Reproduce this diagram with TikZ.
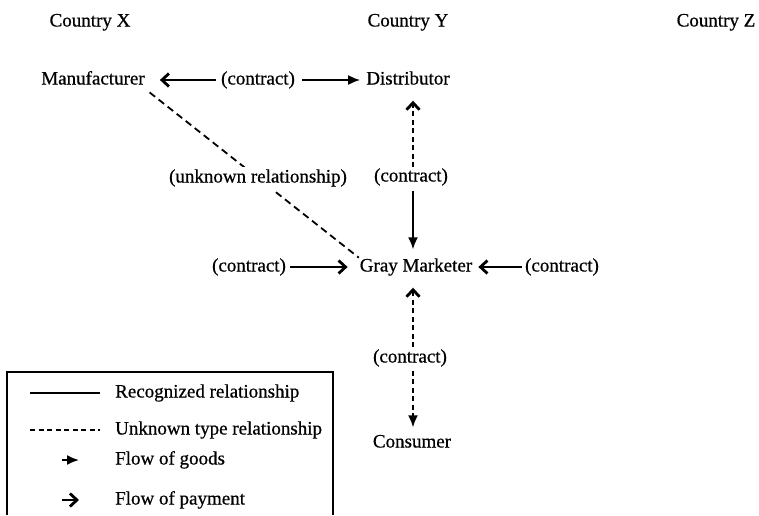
\documentclass[tikz,border=0pt]{standalone}
\usepackage{fontspec}
\newfontfamily\dfont{Liberation Serif}[FakeBold=0.6]
\usetikzlibrary{arrows.meta}
\begin{document}
\begin{tikzpicture}[x=1pt,y=-1pt,
  lbl/.style={inner sep=0pt,text height=13pt,text depth=4pt,font=\dfont\fontsize{19}{22}\selectfont},
  lab/.style={lbl,fill=white,inner xsep=1pt,inner ysep=3pt},
  conn/.style={line width=1.8pt},
  dsh/.style={conn,dash pattern=on 5pt off 3.5pt},
  goods/.style={-{Latex[length=12pt,width=10pt]}},
  pay/.style={-{Straight Barb[length=7pt,width=13pt,line width=2.8pt]}}
]
\useasboundingbox (0,0) rectangle (759,515);
% headers
\node[lbl] (cx) at (90,22) {Country X};
\node[lbl] (cy) at (408,22) {Country Y};
\node[lbl] (cz) at (716,22) {Country Z};
% main nodes
\node[lbl] (mfr) at (93,80) {Manufacturer};
\node[lbl] (c1) at (258,80) {(contract)};
\node[lbl] (dist) at (408,80) {Distributor};
\node[lbl] (c2) at (411,177) {(contract)};
\node[lbl] (gray) at (416,267) {Gray Marketer};
\node[lbl] (c3) at (249,267) {(contract)};
\node[lbl] (c4) at (562,267) {(contract)};
\node[lbl] (c5) at (410,358) {(contract)};
\node[lbl] (cons) at (412,443) {Consumer};
% diagonal unknown relationship
\draw[dsh,dash pattern=on 7pt off 4.5pt,shorten <=6pt,shorten >=1pt] (mfr.south east) -- (gray.north west);
\node[lab] (unk) at (258,178) {(unknown relationship)};
% manufacturer - distributor
\draw[conn,pay,shorten >=15pt,shorten <=5pt] (c1.west) -- (mfr.east);
\draw[conn,goods,shorten <=7pt,shorten >=6pt] (c1.east) -- (dist.west);
% distributor - gray marketer
\draw[dsh,pay,shorten <=1pt,shorten >=12pt] (c2.north -| 413,0) -- (dist.south -| 413,0);
\draw[conn,goods,shorten <=5pt,shorten >=9pt] (c2.south -| 413,0) -- (gray.north -| 413,0);
% left and right contracts
\draw[conn,pay,shorten <=4pt,shorten >=12pt] (c3.east) -- (gray.west);
\draw[conn,pay,shorten <=3pt,shorten >=6pt] (c4.west) -- (gray.east);
% gray marketer - consumer
\draw[dsh,pay,shorten <=2pt,shorten >=12pt] (c5.north -| 413,0) -- (gray.south -| 413,0);
\draw[dsh,goods,shorten <=4pt,shorten >=7pt] (c5.south -| 413,0) -- (cons.north -| 413,0);
% legend
\draw[line width=1.4pt] (7,515) -- (7,372) -- (333,372) -- (333,515);
\coordinate (l1a) at (30,393); \coordinate (l1b) at (100,393);
\coordinate (l2a) at (30,430); \coordinate (l2b) at (100,430);
\coordinate (l3a) at (62,460); \coordinate (l3b) at (79,460);
\coordinate (l4a) at (62,500); \coordinate (l4b) at (79,500);
\draw[conn] (l1a) -- (l1b);
\draw[dsh] (l2a) -- (l2b);
\draw[conn,goods] (l3a) -- (l3b);
\draw[conn,pay] (l4a) -- (l4b);
\node[lbl,anchor=west] (t1) at (115,393) {Recognized relationship};
\node[lbl,anchor=west] (t2) at (115,430) {Unknown type relationship};
\node[lbl,anchor=west] (t3) at (115,460) {Flow of goods};
\node[lbl,anchor=west] (t4) at (115,500) {Flow of payment};
\end{tikzpicture}
\end{document}
